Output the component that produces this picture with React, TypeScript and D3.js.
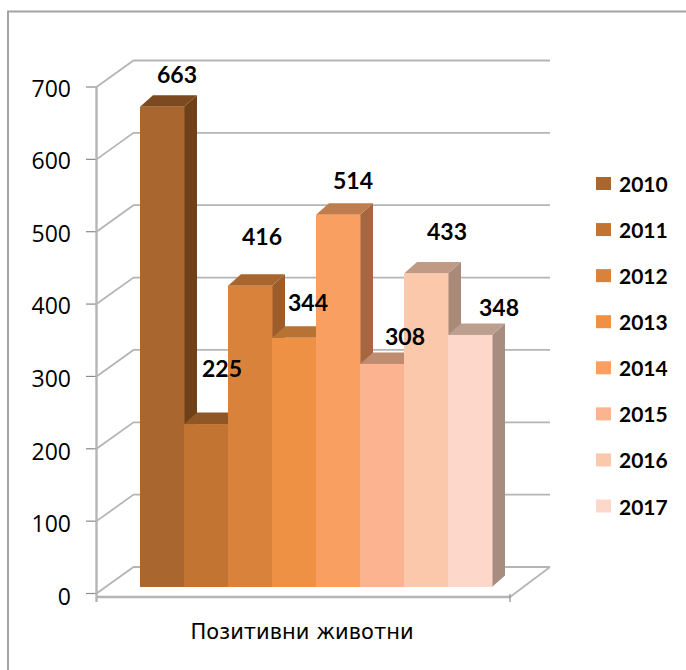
import React from "react";
import * as d3 from "d3";

const years = ["2010","2011","2012","2013","2014","2015","2016","2017"];
const values = [663,225,416,344,514,308,433,348];
const colors = ["#a9672f","#c27533","#d9823c","#ee9145","#f99f62","#fbb48f","#fcc8ac","#fdd7c9"];
const sideColors = ["#6e4119","#8b5427","#9c5d2b","#a86a35","#a5673f","#ad7f66","#a98a78","#a78c80"];
const topColors = ["#7d4a1f","#8f5626","#a9652e","#b87233","#c07c4c","#c08c70","#c09a85","#bd9f90"];
const axisTicks = [0,100,200,300,400,500,600,700];
const axisTitle = "Позитивни животни";
const labelDX = [15,16,12,14,15,23,21,29];
const labelDY = [-24,-47,-41,-27,-26,-19,-33,-19];

const yFront = d3.scaleLinear().domain([0,700]).range([593.5,87]);
const yTickLabel = d3.scaleLinear().domain([0,700]).range([605,96.5]);
const yBar = d3.scaleLinear().domain([0,700]).range([587,80]);
const xBar = d3.scaleBand().domain(years).range([140,492]);
const yLegend = d3.scalePoint().domain(years).range([183.5,506]);
const axisX0 = 96.5, axisX1 = 510, floorY = 597;
const depthX = 37, depthY = 26.5;
const barDX = 13, barDY = 11.5;
const grey = "#b5b5b5";

export default function App() {
  return (
    <svg width={686} height={670} style={{position:"absolute",left:0,top:0,background:"#fff"}}>
      <rect x={8} y={11.5} width={690} height={670} fill="#fff" stroke="#a4a4a4" strokeWidth={2}/>
      {axisTicks.map(t => (
        <g key={t}>
          <polyline fill="none" stroke={grey} strokeWidth={1.8}
            points={`${axisX0},${yFront(t)} ${axisX0+depthX},${yFront(t)-depthY} ${axisX1+40},${yFront(t)-depthY}`}/>
          <line x1={86} x2={axisX0} y1={yFront(t)} y2={yFront(t)} stroke="#8a8a8a" strokeWidth={1.2}/>
          <text x={71} y={yTickLabel(t)} textAnchor="end" fontFamily="'Open Sans'" fontSize={23} fill="#000">{t}</text>
        </g>
      ))}
      <line x1={axisX0} x2={axisX0} y1={87} y2={602} stroke={grey} strokeWidth={2.4}/>
      <line x1={axisX0} x2={axisX1} y1={floorY} y2={floorY} stroke={grey} strokeWidth={2.4}/>
      <line x1={axisX1} y1={floorY} x2={axisX1+40} y2={yFront(0)-depthY} stroke={grey} strokeWidth={1.8}/>
      <line x1={axisX1} x2={axisX1} y1={594} y2={602} stroke="#8a8a8a" strokeWidth={1.2}/>
      {years.map((yr,i) => {
        const x = xBar(yr)!, w = xBar.bandwidth(), yt = yBar(values[i]), yb = yBar(0);
        return (
          <g key={yr}>
            <polygon fill={sideColors[i]} points={`${x+w},${yt} ${x+w+barDX},${yt-barDY} ${x+w+barDX},${yb-barDY} ${x+w},${yb}`}/>
            <polygon fill={topColors[i]} points={`${x},${yt} ${x+barDX},${yt-barDY} ${x+w+barDX},${yt-barDY} ${x+w},${yt}`}/>
            <rect x={x} y={yt} width={w+0.5} height={yb-yt} fill={colors[i]}/>
          </g>
        );
      })}
      {years.map((yr,i) => (
        <text key={yr} x={xBar(yr)!+xBar.bandwidth()/2+labelDX[i]} y={yBar(values[i])+labelDY[i]} textAnchor="middle"
          fontFamily="Lato" fontWeight={700} fontSize={23} fill="#000">{values[i]}</text>
      ))}
      {years.map((yr,i) => (
        <g key={yr}>
          <rect x={596} y={yLegend(yr)!-6.5} width={15} height={13} fill={colors[i]}/>
          <text x={619} y={yLegend(yr)!+8.5} fontFamily="Lato" fontWeight={700} fontSize={21} fill="#000">{yr}</text>
        </g>
      ))}
      <text x={302} y={639} textAnchor="middle" fontFamily="'DejaVu Sans'" fontSize={21} fill="#000">{axisTitle}</text>
    </svg>
  );
}
